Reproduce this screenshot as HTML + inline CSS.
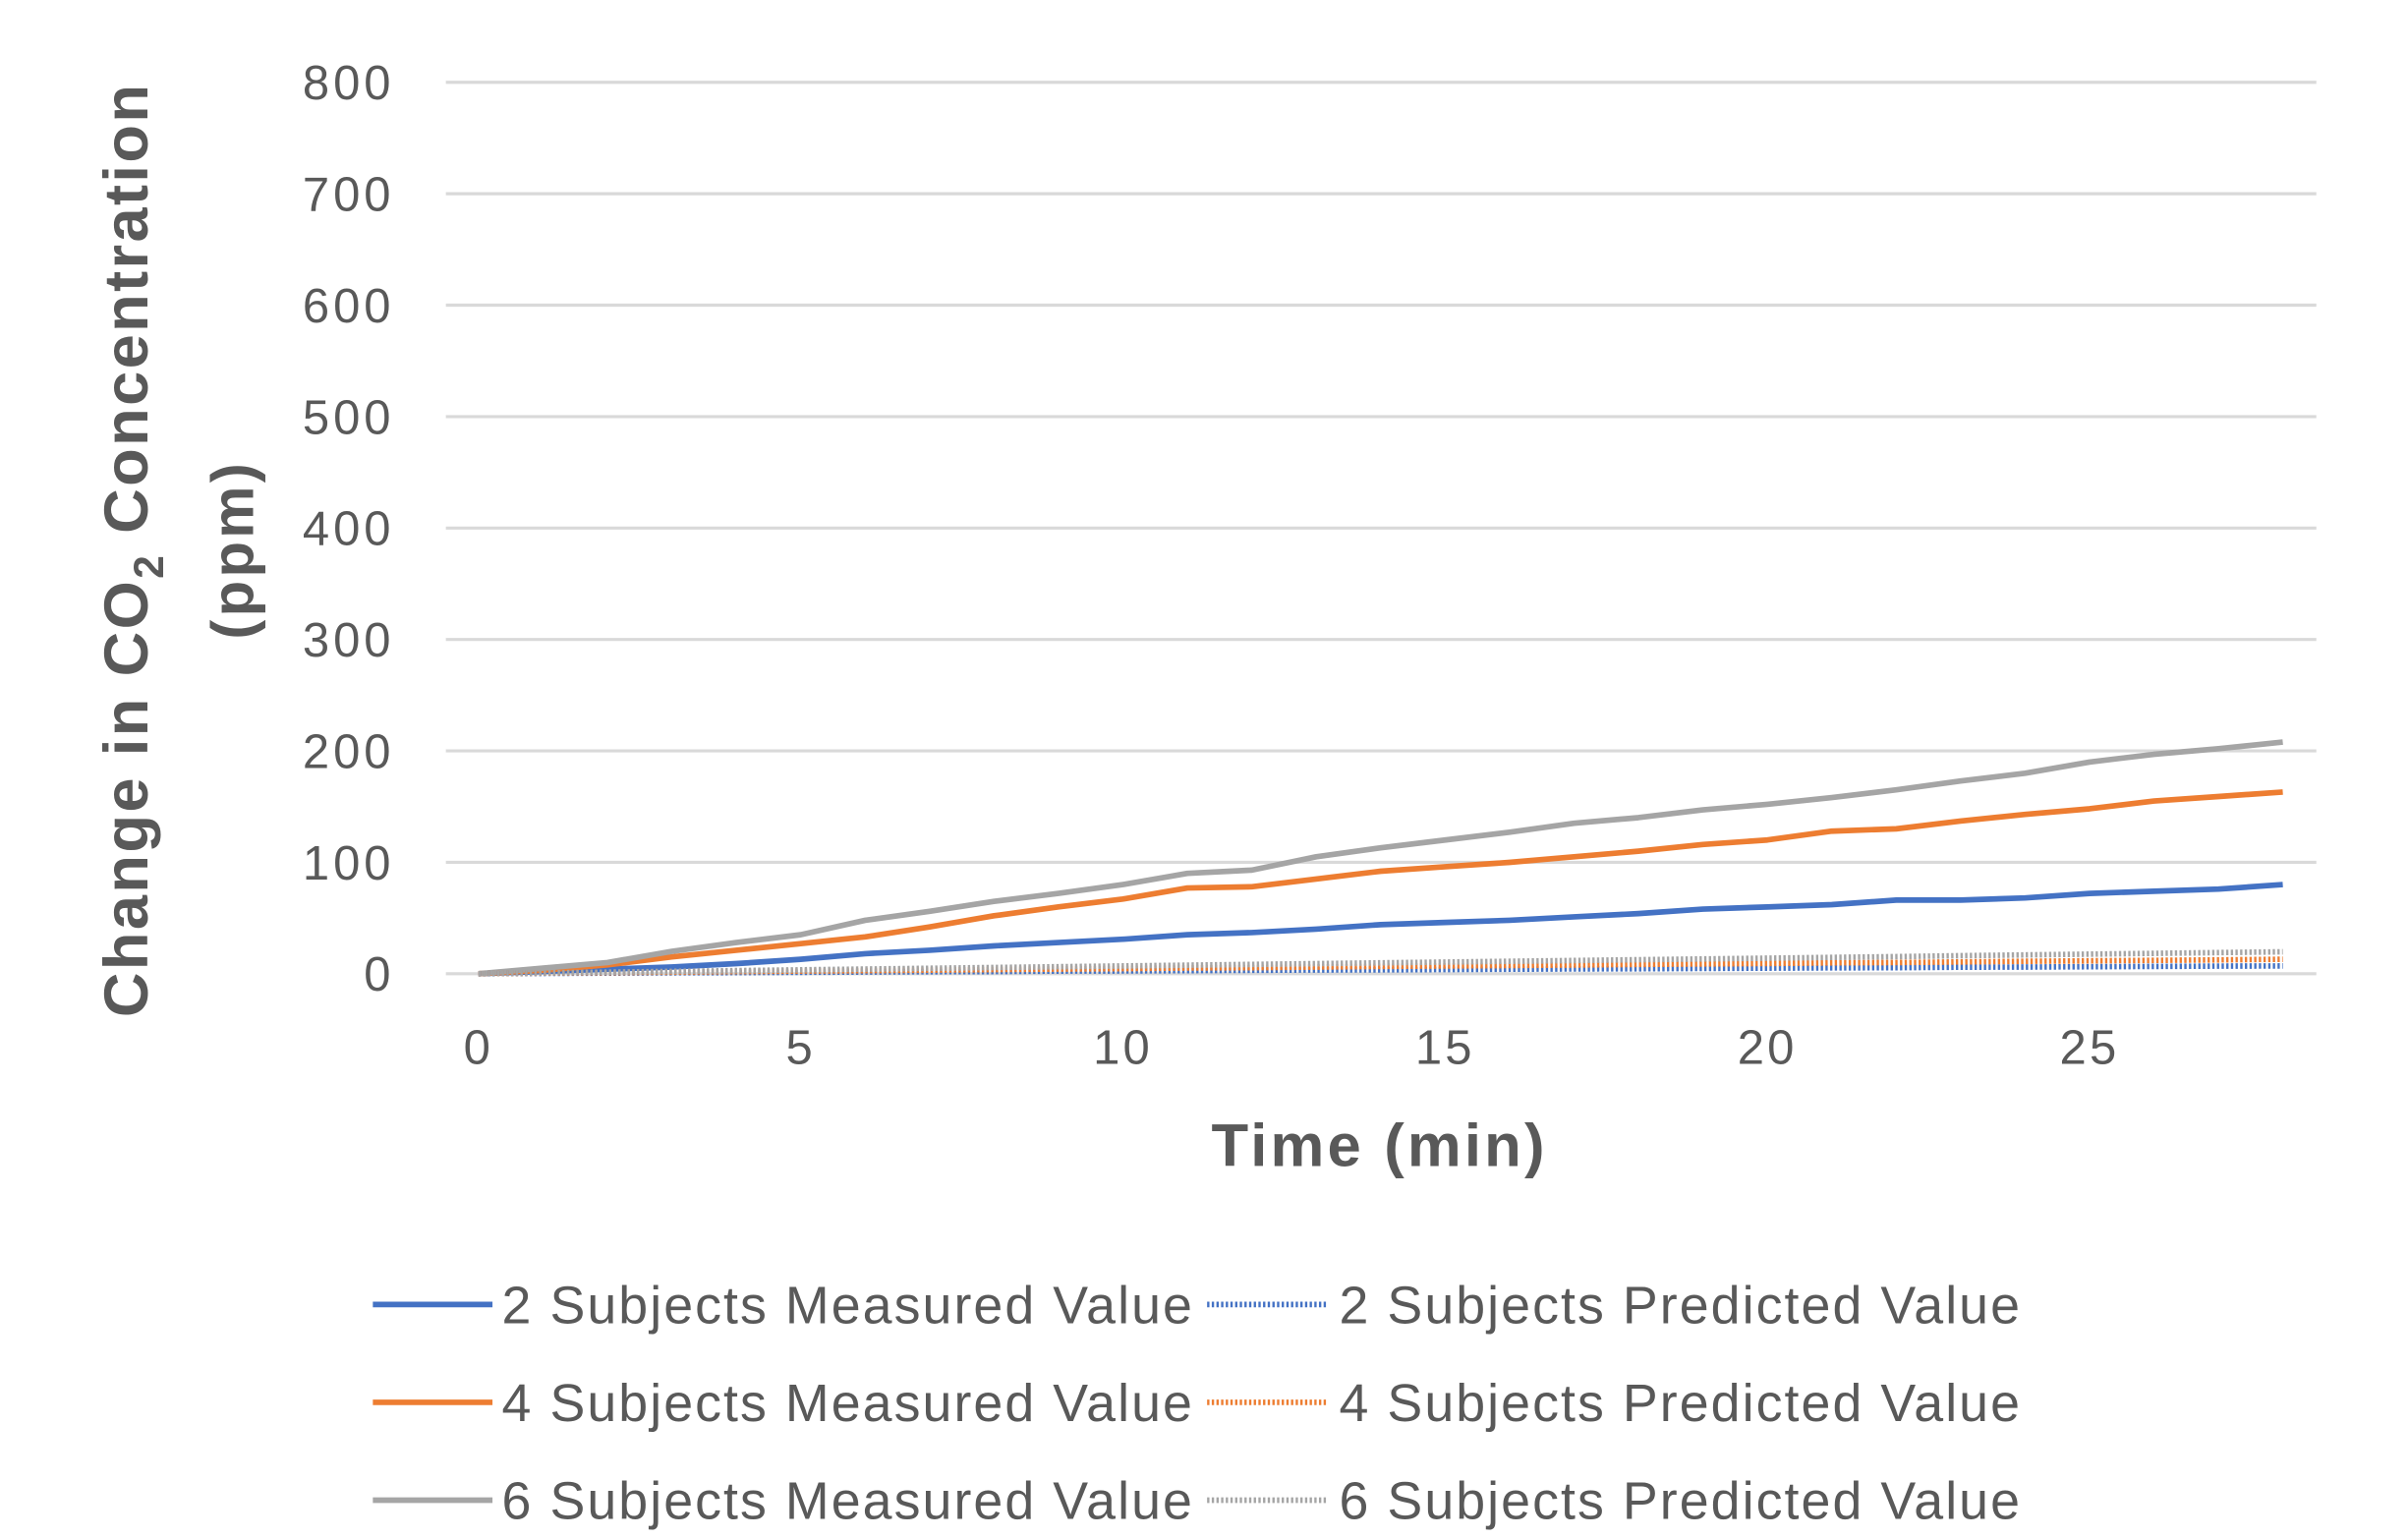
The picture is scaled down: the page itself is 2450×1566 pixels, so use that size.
<!DOCTYPE html>
<html><head><meta charset="utf-8"><style>
html,body{margin:0;padding:0;background:#fff;}
svg{display:block;}
text{font-family:"Liberation Sans","Noto Sans CJK JP",sans-serif;fill:#595959;}
</style></head><body>
<svg id="chart" width="2450" height="1566" viewBox="0 0 1550 991" preserveAspectRatio="none" xmlns="http://www.w3.org/2000/svg">
<g id="grid"></g>
<g id="yticks"></g>
<g id="xticks"></g>
<g id="series"></g>
<text x="888" y="751" text-anchor="middle" font-size="39" font-weight="bold" letter-spacing="2">Time (min)</text>
<g>
<text transform="translate(95,354) rotate(-90)" text-anchor="middle" font-size="40" font-weight="bold" letter-spacing="1.5">Change in CO<tspan font-size="27" dy="10">2</tspan><tspan dy="-10"> Concentration</tspan></text>
<text transform="translate(163,354) rotate(-90)" text-anchor="middle" font-size="38" font-weight="bold" letter-spacing="2">(ppm)</text>
</g>
<g id="legend"></g>
</svg>
<script>
const times=[0,1,2,3,4,5,6,7,8,9,10,11,12,13,14,15,16,17,18,19,20,21,22,23,24,25,26,27,28];
const s2Measured=[0,2,4,6,9,13,18,21,25,28,31,35,37,40,44,46,48,51,54,58,60,62,66,66,68,72,74,76,80];
const s4Measured=[0,3,8,15,21,27,33,42,52,60,67,77,78,85,92,96,100,105,110,116,120,128,130,137,143,148,155,159,163];
const s6Measured=[0,5,10,20,28,35,48,56,65,72,80,90,93,105,113,120,127,135,140,147,152,158,165,173,180,190,197,202,208];
const s2Predicted=[0,0.3,0.5,0.8,1,1.3,1.5,1.8,2,2.3,2.5,2.8,3,3.3,3.5,3.8,4,4.3,4.5,4.8,5,5.3,5.5,5.8,6,6.3,6.5,6.8,7];
const s4Predicted=[0,0.5,1,1.4,1.9,2.3,2.8,3.2,3.7,4.2,4.6,5.1,5.5,6,6.5,6.9,7.4,7.8,8.3,8.8,9.2,9.7,10.1,10.6,11.1,11.5,12,12.4,12.9];
const s6Predicted=[0,0.7,1.4,2.1,2.8,3.5,4.2,4.9,5.6,6.3,7,7.7,8.4,9.1,9.8,10.5,11.2,11.9,12.6,13.3,14,14.7,15.4,16.1,16.8,17.5,18.2,18.9,19.6];
const yTickLabels=["0","100","200","300","400","500","600","700","800"];
const xTickLabels=["0","5","10","15","20","25"];
const legendLabels=["2 Subjects Measured Value","2 Subjects Predicted Value","4 Subjects Measured Value","4 Subjects Predicted Value","6 Subjects Measured Value","6 Subjects Predicted Value"];

const NS="http://www.w3.org/2000/svg";
const X0=287,X1=1491,Y0=627,Y800=53;
function xs(t){return 308+(t/25)*(1345-308);}
function ys(v){return Y0-(v/800)*(Y0-Y800);}
function mk(tag,attrs,parent){const e=document.createElementNS(NS,tag);for(const k in attrs)e.setAttribute(k,attrs[k]);parent.appendChild(e);return e;}
const grid=document.getElementById('grid'),yt=document.getElementById('yticks'),xt=document.getElementById('xticks'),ser=document.getElementById('series'),leg=document.getElementById('legend');
yTickLabels.forEach(l=>{const v=+l;
 const g=mk('line',{x1:X0,x2:X1,y1:ys(v),y2:ys(v),stroke:'#d9d9d9','stroke-width':2},grid);
 
 
 const t=mk('text',{x:254,y:ys(v)+11,'text-anchor':'end','font-size':31,'letter-spacing':2.5},yt);t.textContent=l;
 
 
});
xTickLabels.forEach(l=>{const v=+l;
 const t=mk('text',{x:xs(v),y:685,'text-anchor':'middle','font-size':31,'letter-spacing':2},xt);t.textContent=l;
 
 
});
const seriesDefs=[[s2Measured,'#4472C4',false,'2-subjects-measured'],[s4Measured,'#ED7D31',false,'4-subjects-measured'],[s6Measured,'#A5A5A5',false,'6-subjects-measured'],[s2Predicted,'#4472C4',true,'2-subjects-predicted'],[s4Predicted,'#ED7D31',true,'4-subjects-predicted'],[s6Predicted,'#A5A5A5',true,'6-subjects-predicted']];
seriesDefs.forEach(([d,c,dot,n])=>{
 const pts=d.map((v,i)=>xs(times[i]).toFixed(1)+','+ys(v).toFixed(1)).join(' ');
 const a={points:pts,fill:'none',stroke:c,'stroke-width':3.6,'stroke-linejoin':'round'};
 if(dot){a['stroke-dasharray']='1.5,1.5';a['stroke-width']=3.6;}
 const p=mk('polyline',a,ser);
 
 
});
const legCols=['#4472C4','#4472C4','#ED7D31','#ED7D31','#A5A5A5','#A5A5A5'];
legendLabels.forEach((l,i)=>{const row=Math.floor(i/2),col=i%2;const y=[840,903,966][row];
 const lx=col?777:240,tx=col?862:323;
 const g=mk('g',{},leg);
 
 
 const a={x1:lx,x2:lx+77,y1:y,y2:y,stroke:legCols[i],'stroke-width':3.6};
 if(col)a['stroke-dasharray']='1.5,1.5';
 mk('line',a,g);
 const t=mk('text',{x:tx,y:y+12,'font-size':34,'letter-spacing':1.3},g);t.textContent=l;
});
</script>
</body></html>
